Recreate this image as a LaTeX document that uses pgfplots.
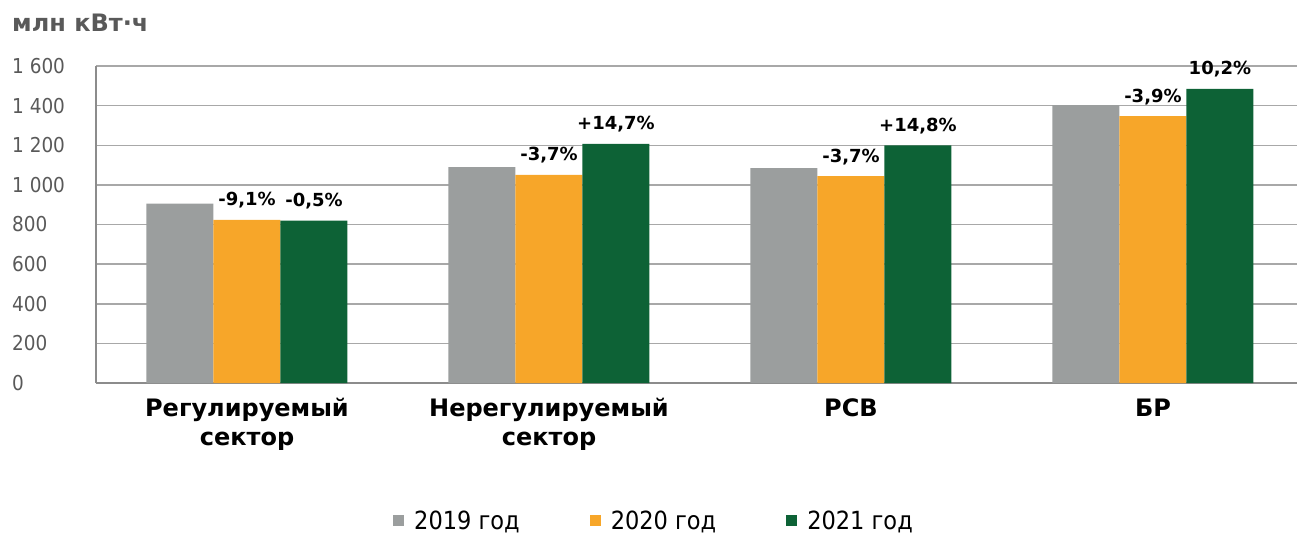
\documentclass[border=0pt]{standalone}
\usepackage{fontspec}
\setmainfont{DejaVu Sans}[FakeStretch=0.9]
\newfontfamily\bfam{DejaVu Sans}
\usepackage{pgfplots}
\pgfplotsset{compat=1.18}
\definecolor{cgray}{RGB}{155,158,158}
\definecolor{corange}{RGB}{247,166,41}
\definecolor{cgreen}{RGB}{13,98,54}
\definecolor{gridc}{RGB}{168,168,168}
\definecolor{axisc}{RGB}{140,140,140}
\definecolor{tickc}{RGB}{89,89,89}
\begin{document}
\begin{tikzpicture}
\path[use as bounding box] (-96pt,-150pt) rectangle (1201pt,383pt);
\begin{axis}[
  scale only axis,
  width=1201pt, height=317pt,
  at={(0pt,0pt)}, anchor=south west,
  xmin=-0.5, xmax=3.477,
  ymin=0, ymax=1600,
  ytick={0,200,...,1600},
  xtick={0,1,2,3},
  xticklabels={{Регулируемый\\сектор},{Нерегулируемый\\сектор},{РСВ},{БР}},
  ybar=0pt, bar width=67pt,
  major tick length=0pt,
  axis x line*=bottom, axis y line*=left,
  x axis line style={-, draw=axisc, line width=2pt},
  y axis line style={-, draw=axisc, line width=1.5pt},
  ymajorgrids, grid style={draw=gridc, line width=1.5pt},
  scaled y ticks=false,
  /pgf/number format/.cd, 1000 sep={\ }, assume math mode=true,
  /pgfplots/.cd,
  yticklabel style={anchor=west, xshift=-84pt, text=tickc, inner sep=0pt,
    font=\fontsize{20.5}{24}\selectfont},
  xticklabel style={align=center, text=black, yshift=-12pt,
    font=\bfam\bfseries\fontsize{24}{29}\selectfont},
  point meta=explicit symbolic,
  every node near coord/.append style={anchor=base, yshift=14pt, text=black,
    font=\bfam\bfseries\fontsize{18}{21}\selectfont},
  legend columns=3,
  legend style={at={(0.4638,-0.435)}, anchor=center, draw=none, fill=none,
    font=\fontsize{25}{28}\selectfont,
    nodes={inner sep=0pt},
    /tikz/every odd column/.append style={column sep=10pt},
    /tikz/every even column/.append style={column sep=70pt}},
  legend image code/.code={\fill[#1] (0pt,-5.5pt) rectangle (11pt,5.5pt);},
]
\addplot[fill=cgray, draw=none] coordinates {(0,905) (1,1090) (2,1084) (3,1402)};
\addplot[fill=corange, draw=none, nodes near coords] coordinates {
  (0,823) [{-9,1\%}] (1,1050) [{-3,7\%}] (2,1044) [{-3,7\%}] (3,1347) [{-3,9\%}]};
\addplot[fill=cgreen, draw=none, nodes near coords] coordinates {
  (0,820) [{-0,5\%}] (1,1207) [{+14,7\%}] (2,1200) [{+14,8\%}] (3,1485) [{10,2\%}]};
\legend{2019 год, 2020 год, 2021 год}
\end{axis}
\node[anchor=base west, inner sep=0pt, text=tickc, font=\bfam\bfseries\fontsize{24}{27}\selectfont] at (-84pt,351pt) {млн кВт·ч};
\end{tikzpicture}
\end{document}
